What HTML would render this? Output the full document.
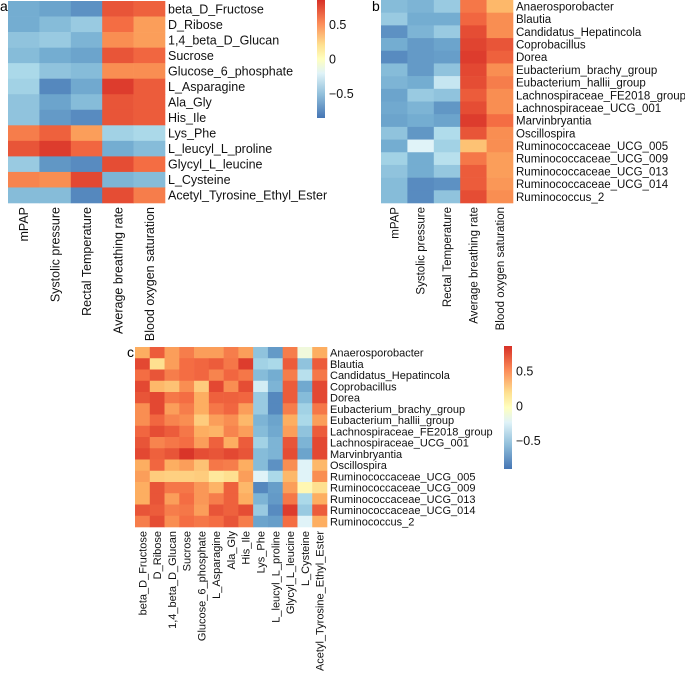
<!DOCTYPE html>
<html><head><meta charset="utf-8"><style>
html,body{margin:0;padding:0;background:#fff}
svg{display:block;font-family:"Liberation Sans",Arial,sans-serif}
</style></head><body>
<svg id="fig" width="685" height="675" viewBox="0 0 685 675">
<defs>
<linearGradient id="cbar" x1="0" y1="1" x2="0" y2="0">
<stop offset="0" stop-color="#4575b4"/><stop offset="0.2" stop-color="#91bfdb"/><stop offset="0.38" stop-color="#e0f3f8"/><stop offset="0.5" stop-color="#ffffbf"/><stop offset="0.62" stop-color="#fee090"/><stop offset="0.8" stop-color="#fc8d59"/><stop offset="1" stop-color="#d73027"/>
</linearGradient>
</defs>
</svg>
<script>
const clinicalCols=["mPAP","Systolic pressure","Rectal Temperature","Average breathing rate","Blood oxygen saturation"];
const metabolites=["beta_D_Fructose","D_Ribose","1,4_beta_D_Glucan","Sucrose","Glucose_6_phosphate","L_Asparagine","Ala_Gly","His_Ile","Lys_Phe","L_leucyl_L_proline","Glycyl_L_leucine","L_Cysteine","Acetyl_Tyrosine_Ethyl_Ester"];
const bacteria=["Anaerosporobacter","Blautia","Candidatus_Hepatincola","Coprobacillus","Dorea","Eubacterium_brachy_group","Eubacterium_hallii_group","Lachnospiraceae_FE2018_group","Lachnospiraceae_UCG_001","Marvinbryantia","Oscillospira","Ruminococcaceae_UCG_005","Ruminococcaceae_UCG_009","Ruminococcaceae_UCG_013","Ruminococcaceae_UCG_014","Ruminococcus_2"];
const valuesA=[[-0.6,-0.65,-0.75,0.75,0.7],[-0.6,-0.5,-0.4,0.65,0.5],[-0.45,-0.4,-0.55,0.55,0.5],[-0.5,-0.6,-0.65,0.75,0.68],[-0.3,-0.45,-0.5,0.55,0.55],[-0.35,-0.8,-0.62,0.85,0.72],[-0.45,-0.65,-0.5,0.75,0.72],[-0.45,-0.7,-0.78,0.75,0.72],[0.6,0.7,0.5,-0.35,-0.3],[0.75,0.85,0.68,-0.6,-0.5],[-0.4,-0.72,-0.78,0.78,0.65],[0.58,0.55,0.8,-0.55,-0.5],[-0.5,-0.5,-0.8,0.78,0.6]];
const valuesB=[[-0.5,-0.55,-0.4,0.62,0.4],[-0.4,-0.6,-0.6,0.68,0.55],[-0.75,-0.55,-0.4,0.78,0.55],[-0.6,-0.7,-0.65,0.82,0.75],[-0.78,-0.7,-0.68,0.85,0.7],[-0.5,-0.7,-0.45,0.8,0.55],[-0.55,-0.6,-0.2,0.78,0.6],[-0.65,-0.4,-0.45,0.72,0.55],[-0.62,-0.55,-0.72,0.78,0.55],[-0.65,-0.6,-0.65,0.85,0.65],[-0.45,-0.72,-0.28,0.75,0.55],[-0.6,-0.1,-0.35,0.35,0.55],[-0.35,-0.6,-0.25,0.62,0.5],[-0.45,-0.6,-0.42,0.72,0.5],[-0.5,-0.78,-0.75,0.72,0.52],[-0.5,-0.78,-0.45,0.78,0.55]];
const valuesC=[[0.45,0.72,0.5,0.6,0.5,0.5,0.6,0.5,-0.45,-0.7,0.6,-0.05,0.45],[0.8,0.2,0.5,0.65,0.68,0.72,0.62,0.85,-0.35,-0.3,0.72,-0.45,0.72],[0.65,0.75,0.6,0.65,0.68,0.58,0.68,0.62,-0.5,-0.6,0.6,-0.25,0.62],[0.8,0.4,0.35,0.55,0.3,0.8,0.55,0.78,-0.15,-0.55,0.72,-0.62,0.8],[0.75,0.8,0.62,0.65,0.45,0.7,0.7,0.68,-0.4,-0.8,0.72,-0.5,0.8],[0.55,0.8,0.5,0.6,0.45,0.62,0.68,0.5,-0.4,-0.8,0.6,-0.35,0.62],[0.55,0.68,0.58,0.55,0.3,0.5,0.55,0.4,-0.55,-0.65,0.45,-0.3,0.5],[0.68,0.78,0.72,0.62,0.45,0.42,0.58,0.5,-0.5,-0.62,0.5,-0.45,0.72],[0.75,0.58,0.62,0.65,0.5,0.7,0.45,0.72,-0.35,-0.55,0.75,-0.55,0.8],[0.8,0.7,0.75,0.88,0.78,0.75,0.8,0.75,-0.5,-0.55,0.78,-0.65,0.8],[0.45,0.68,0.45,0.5,0.35,0.62,0.6,0.45,-0.5,-0.75,0.55,-0.1,0.4],[0.5,0.3,0.28,0.28,0.3,0.15,0.2,0.5,-0.1,-0.3,0.4,-0.1,0.55],[0.45,0.75,0.62,0.62,0.52,0.42,0.7,0.4,-0.8,-0.68,0.5,0.05,0.2],[0.45,0.75,0.5,0.65,0.52,0.6,0.7,0.45,-0.55,-0.7,0.62,-0.3,0.45],[0.75,0.72,0.6,0.62,0.5,0.75,0.7,0.78,-0.4,-0.78,0.85,-0.4,0.72],[0.6,0.78,0.55,0.65,0.62,0.65,0.75,0.6,-0.65,-0.68,0.65,-0.1,0.45]];
const cbarTicks=[0.5,0,-0.5];

const NS="http://www.w3.org/2000/svg";
const svg=document.getElementById('fig');
const stops=[[-0.9,[69,117,180]],[-0.6,[116,173,209]],[-0.3,[171,217,233]],[-0.1,[224,243,248]],[0,[255,255,191]],[0.2,[254,224,144]],[0.45,[253,174,97]],[0.65,[244,109,67]],[0.9,[215,48,39]]];
function color(v){
  if(v<=stops[0][0])return `rgb(${stops[0][1]})`;
  for(let i=1;i<stops.length;i++){
    if(v<=stops[i][0]){const a=stops[i-1],b=stops[i];const t=(v-a[0])/(b[0]-a[0]);
      const c=a[1].map((x,k)=>Math.round(x+(b[1][k]-x)*t));return `rgb(${c})`;}
  }
  return `rgb(${stops[stops.length-1][1]})`;
}
function mk(tag,attrs,parent){const e=document.createElementNS(NS,tag);for(const k in attrs)e.setAttribute(k,attrs[k]);(parent||svg).appendChild(e);return e;}

function heatmap(name,x0,y0,x1,y1,rows,cols,vals,fs){
  const g=mk('g',{});
  
  
  const cw=(x1-x0)/cols.length,ch=(y1-y0)/rows.length;
  vals.forEach((row,r)=>row.forEach((v,c)=>{
    const rc=mk('rect',{x:x0+c*cw,y:y0+r*ch,width:cw+0.3,height:ch+0.3,fill:color(v)},g);
    
    
  }));
  rows.forEach((lab,r)=>{
    const t=mk('text',{x:x1+3,y:y0+(r+0.5)*ch+fs*0.36,'font-size':fs,fill:'#111'},g);
    t.textContent=lab;
    
    
  });
  cols.forEach((lab,c)=>{
    const cx=x0+(c+0.5)*cw+fs*0.36,cy=y1+4;
    const t=mk('text',{x:cx,y:cy,'font-size':fs,fill:'#111','text-anchor':'end',transform:`rotate(-90 ${cx} ${cy})`},g);
    t.textContent=lab;
    
    
  });
}
function colorbar(name,x,y0,y1,vmin,vmax){
  const g=mk('g',{});
  
  
  mk('rect',{x:x,y:y0,width:8,height:y1-y0,fill:'url(#cbar)'},g);
  cbarTicks.forEach(tv=>{
    const yy=y1-(tv-vmin)/(vmax-vmin)*(y1-y0);
    const t=mk('text',{x:x+12,y:yy+4,'font-size':12.5,fill:'#111'},g);
    t.textContent=tv<0?'\u2212'+Math.abs(tv):String(tv);
    
    
  });
}
function letter(ch,x,y){const t=mk('text',{x:x,y:y,'font-size':14,fill:'#000'});t.textContent=ch;
  
  }

heatmap('heatmap-a',8,1,165,203,metabolites,clinicalCols,valuesA,12.5);
colorbar('colorbar-a',317,0,118,-0.85,0.86);
heatmap('heatmap-b',381,0,513,203,bacteria,clinicalCols,valuesB,11.5);
heatmap('heatmap-c',135,347,327,527,bacteria,metabolites,valuesC,11);
colorbar('colorbar-c',504,346,469,-0.9,0.87);
letter('a',0,11);letter('b',372,11);letter('c',127,357);
</script>
</body></html>
